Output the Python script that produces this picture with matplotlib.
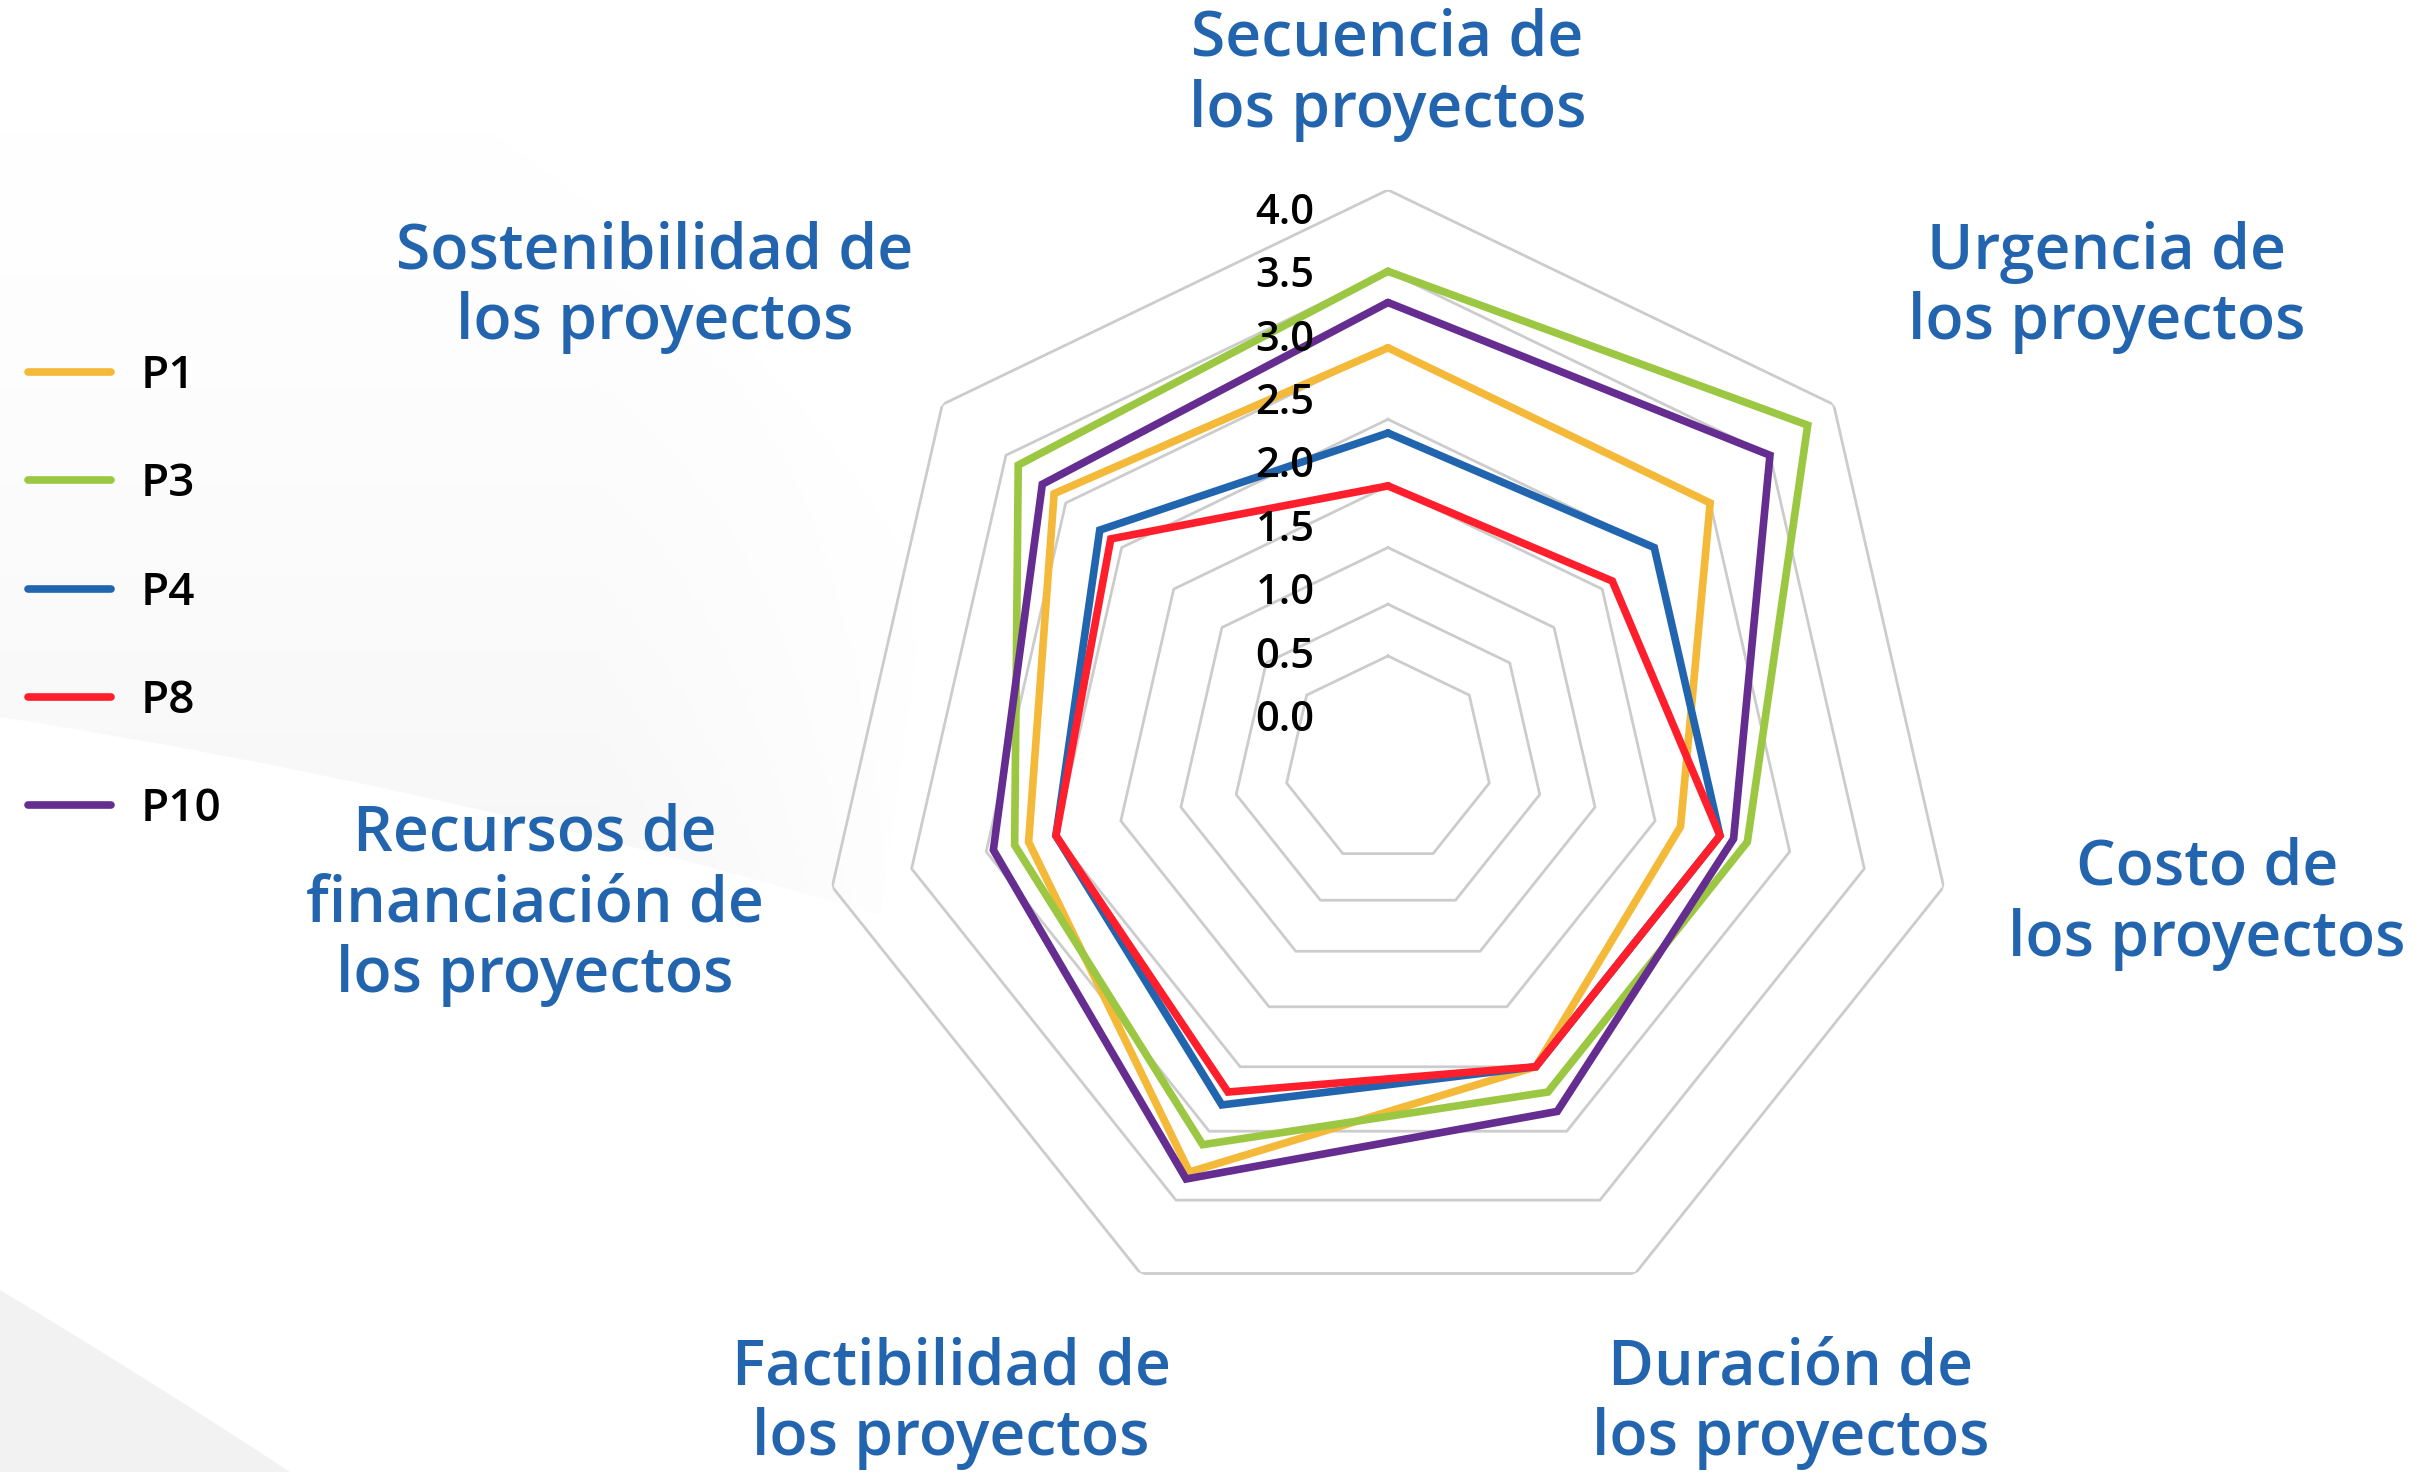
import numpy as np
import matplotlib.pyplot as plt
from matplotlib.path import Path
from matplotlib.patches import PathPatch

# chart data (means per criterion, read from the rings)
categories = ["Secuencia de\nlos proyectos", "Urgencia de\nlos proyectos", "Costo de\nlos proyectos",
              "Duración de\nlos proyectos", "Factibilidad de\nlos proyectos",
              "Recursos de\nfinanciación de\nlos proyectos", "Sostenibilidad de\nlos proyectos"]
series_names = ["P1", "P3", "P4", "P8", "P10"]
p1 = [3.0, 3.0, 2.2, 2.5, 3.3, 2.7, 3.1]
p3 = [3.5, 3.8, 2.7, 2.7, 3.1, 2.8, 3.4]
p4 = [2.4, 2.5, 2.5, 2.5, 2.8, 2.5, 2.7]
p8 = [2.0, 2.1, 2.5, 2.5, 2.7, 2.5, 2.6]
p10 = [3.3, 3.5, 2.6, 2.85, 3.35, 2.95, 3.2]
grid_levels = [0.5, 1.0, 1.5, 2.0, 2.5, 3.0, 3.5, 4.0]
tick_labels = ["0.0", "0.5", "1.0", "1.5", "2.0", "2.5", "3.0", "3.5", "4.0"]

colors = ["#F4B938", "#9BC743", "#2265AF", "#FF1E2B", "#662D91"]
label_blue = "#2264AE"

# the rings in the picture are not evenly spaced, so the radial axis is a fitted curve
ra, rb, rc = 9.9, 88.6, 57.2
def to_radius(v):
    return ra * v**2 + rb * v + rc
def from_radius(r):
    return (-rb + np.sqrt(np.maximum(rb**2 - 4 * ra * (rc - r), 0))) / (2 * ra)

plt.rcParams['font.family'] = ['Open Sans', 'DejaVu Sans']

fig = plt.figure(figsize=(24.17, 14.72), dpi=100)

# faint grey swooshes in the background, in pixel coordinates of the figure
bg = fig.add_axes([0, 0, 1, 1])
bg.axis('off')
vert = np.linspace(0.0, 1.0, 200)[:, None] ** 1.5
horiz = np.clip((950 - np.linspace(0, 950, 200)) / 350, 0, 1)[None, :]
shade = vert * horiz
swoosh = PathPatch(Path([(0, 0), (242, 0), (700, 200), (925, 587), (880, 915),
                         (440, 785), (0, 717), (0, 0)],
                        [Path.MOVETO, Path.LINETO, Path.CURVE3, Path.CURVE3, Path.LINETO,
                         Path.CURVE3, Path.CURVE3, Path.CLOSEPOLY]),
                   facecolor='none', edgecolor='none')
bg.add_patch(swoosh)
im = bg.imshow(shade, cmap='Greys', vmin=0, vmax=14, extent=(0, 950, 920, 0), aspect='auto')
im.set_clip_path(swoosh)
corner = PathPatch(Path([(0, 1290), (150, 1380), (290, 1472), (0, 1472), (0, 1290)],
                        [Path.MOVETO, Path.CURVE3, Path.CURVE3, Path.LINETO, Path.CLOSEPOLY]),
                   facecolor='#f2f2f2', edgecolor='none')
bg.add_patch(corner)
bg.set_xlim(0, 2417)
bg.set_ylim(1472, 0)

ax = fig.add_axes([0.3384, 0.0965, 0.4717, 0.7745], projection='polar')
ax.set_yscale('function', functions=(to_radius, from_radius))
ax.set_theta_zero_location('N')
ax.set_theta_direction(-1)

n = len(categories)
angles = np.linspace(0, 2 * np.pi, n, endpoint=False)
angles_closed = np.append(angles, angles[0])

# heptagon rings
for lev in grid_levels:
    ax.plot(angles_closed, [lev] * (n + 1), color="#cccccc", lw=2.0, zorder=1)

lines = []
for name, vals, c in zip(series_names, [p1, p3, p4, p8, p10], colors):
    v = np.append(vals, vals[0])
    ln, = ax.plot(angles_closed, v, color=c, lw=5.5, label=name, zorder=3,
                  solid_joinstyle='miter', solid_capstyle='round')
    lines.append(ln)

ax.set_ylim(from_radius(0), 4.0)
ax.grid(False)
ax.set_xticks([])
ax.set_yticks([])
ax.spines['polar'].set_visible(False)
ax.patch.set_alpha(0)

# value labels down the top axis
for lab, y in zip(tick_labels, np.linspace(0.5109, 0.8553, len(tick_labels))):
    fig.text(0.5317, y, lab, ha='center', va='center', fontsize=30, color='black', fontweight='semibold')

# criterion names
label_pos = [(0.5740, 0.9492), (0.8717, 0.8047), (0.9131, 0.3860), (0.7410, 0.0469),
             (0.3935, 0.0469), (0.2213, 0.3852), (0.2710, 0.8047)]
for txt, (x, y) in zip(categories, label_pos):
    fig.text(x, y, txt, ha='center', va='center', fontsize=45, color=label_blue,
             fontweight='semibold', linespacing=1.16)

fig.legend(handles=lines, labels=series_names, loc='center left', bbox_to_anchor=(0.0116, 0.597),
           frameon=False, handlelength=1.8, handletextpad=0.65, labelspacing=1.38,
           borderpad=0, borderaxespad=0, prop={'weight': 'semibold', 'size': 33})

plt.savefig("out.png", dpi=100, facecolor='white')
